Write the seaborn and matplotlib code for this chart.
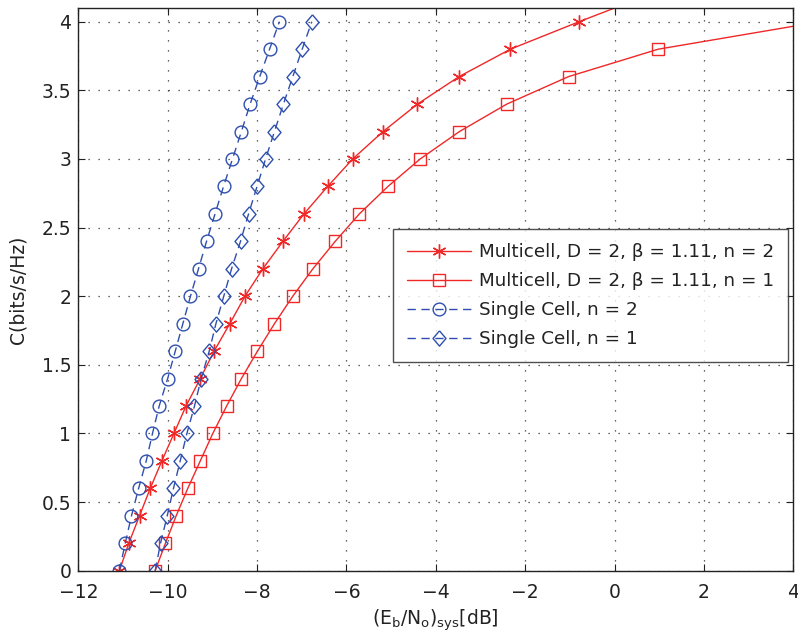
import numpy as np
import pandas as pd
import matplotlib
matplotlib.use("Agg")
import matplotlib.pyplot as plt
import seaborn as sns

# ---- data ----
c_single = [0.0, 0.2, 0.4, 0.6, 0.8, 1.0, 1.2, 1.4, 1.6, 1.8, 2.0, 2.2, 2.4, 2.6, 2.8, 3.0, 3.2, 3.4, 3.6, 3.8, 4.0]
x_single_n2 = [-11.08, -10.95, -10.81, -10.65, -10.48, -10.34, -10.19, -10.0, -9.83, -9.66, -9.49,
               -9.31, -9.13, -8.94, -8.75, -8.55, -8.35, -8.155, -7.94, -7.72, -7.50]
x_single_n1 = [-10.28, -10.16, -10.01, -9.87, -9.72, -9.57, -9.40, -9.25, -9.07, -8.92, -8.745,
               -8.57, -8.37, -8.19, -8.0, -7.81, -7.61, -7.41, -7.2, -6.99, -6.775]

c_multi = [0.0, 0.2, 0.4, 0.6, 0.8, 1.0, 1.2, 1.4, 1.6, 1.8, 2.0, 2.2, 2.4, 2.6, 2.8, 3.0, 3.2, 3.4, 3.6, 3.8, 4.0, 4.2]
x_multi_n2 = [-11.08, -10.87, -10.63, -10.39, -10.13, -9.86, -9.59, -9.27, -8.96, -8.61, -8.27,
              -7.87, -7.42, -6.95, -6.42, -5.86, -5.18, -4.41, -3.48, -2.33, -0.795, 0.8]
x_multi_n1 = [-10.28, -10.05, -9.81, -9.55, -9.27, -8.99, -8.68, -8.35, -7.99, -7.61, -7.20,
              -6.75, -6.25, -5.71, -5.07, -4.35, -3.47, -2.41, -1.03, 0.98, 4.6, 6.5]

labels = ["Multicell, D = 2, \u03b2 = 1.11, n = 2",
          "Multicell, D = 2, \u03b2 = 1.11, n = 1",
          "Single Cell, n = 2",
          "Single Cell, n = 1"]
x_ticks = [-12, -10, -8, -6, -4, -2, 0, 2, 4]
y_ticks = [0, 0.5, 1, 1.5, 2, 2.5, 3, 3.5, 4]

sns.set_theme(style="white")
plt.rcParams['font.family'] = ['DejaVu Sans']
plt.rcParams['mathtext.fontset'] = 'dejavusans'

fig = plt.figure(figsize=(7.98, 6.41), dpi=100)
ax = fig.add_axes([78.3 / 798, 1 - 570.7 / 641, (793.3 - 78.3) / 798, (570.7 - 8) / 641])

red = "#f02828"
blue = "#2e4fae"
txt = "#222222"
asterisk = (6, 2, 0)
rhombus = [(0, 1), (0.85, 0), (0, -1), (-0.85, 0), (0, 1)]

df_m2 = pd.DataFrame({"x": x_multi_n2, "y": c_multi})
df_m1 = pd.DataFrame({"x": x_multi_n1, "y": c_multi})
df_s2 = pd.DataFrame({"x": x_single_n2, "y": c_single})
df_s1 = pd.DataFrame({"x": x_single_n1, "y": c_single})

sns.lineplot(data=df_m2, x="x", y="y", ax=ax, sort=False, estimator=None, color=red, lw=1.0,
             marker=asterisk, markersize=10, markeredgewidth=1.0, markeredgecolor=red,
             label=labels[0])
sns.lineplot(data=df_m1, x="x", y="y", ax=ax, sort=False, estimator=None, color=red, lw=1.0,
             marker="s", markersize=8, markerfacecolor="none", markeredgewidth=1.0,
             markeredgecolor=red, label=labels[1])
sns.lineplot(data=df_s2, x="x", y="y", ax=ax, sort=False, estimator=None, color=blue, lw=1.0,
             linestyle=(0, (6, 4)), marker="o", markersize=9.2, markerfacecolor="none",
             markeredgewidth=1.0, markeredgecolor=blue, label=labels[2])
sns.lineplot(data=df_s1, x="x", y="y", ax=ax, sort=False, estimator=None, color=blue, lw=1.0,
             linestyle=(0, (6, 4)), marker=rhombus, markersize=11, markerfacecolor="none",
             markeredgewidth=1.0, markeredgecolor=blue, label=labels[3])

ax.set_xlim(-12, 4)
ax.set_ylim(0, 4.1)
ax.set_xticks(x_ticks)
ax.set_yticks(y_ticks)
ax.set_xticklabels(["\u221212", "\u221210", "\u22128", "\u22126", "\u22124", "\u22122", "0", "2", "4"])
ax.set_yticklabels(["0", "0.5", "1", "1.5", "2", "2.5", "3", "3.5", "4"])
ax.tick_params(direction="in", length=5, width=0.8, colors=txt, labelsize=13.5,
               top=True, right=True, bottom=True, left=True)
ax.tick_params(axis="x", pad=9)
ax.tick_params(axis="y", pad=5)
ax.grid(True, linestyle=(0, (1, 7)), color="#333333", linewidth=0.9)
for s in ax.spines.values():
    s.set_color(txt)
    s.set_linewidth(1.0)
    s.set_visible(True)

ax.set_xlabel(r"(E$_\mathregular{b}$/N$_\mathregular{o}$)$_\mathregular{sys}$[dB]",
              fontsize=13.5, color=txt, labelpad=4)
ax.set_ylabel("C(bits/s/Hz)", fontsize=13.5, color=txt, labelpad=10)

leg = ax.legend(loc="upper left", bbox_to_anchor=(0.4406, 0.6067), borderaxespad=0,
                fontsize=13.2, frameon=True, fancybox=False, edgecolor=txt,
                handlelength=3.5, handletextpad=0.45, borderpad=0.75, labelspacing=0.6)
leg.get_frame().set_linewidth(1.0)
for t in leg.get_texts():
    t.set_color(txt)

fig.savefig("out.png", dpi=100)
